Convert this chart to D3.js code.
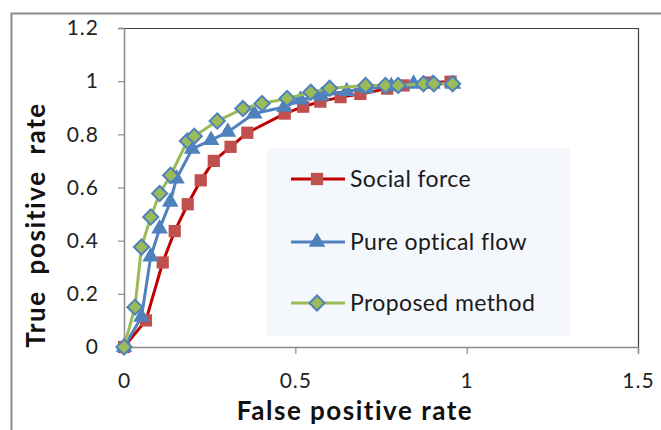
<!DOCTYPE html>
<html>
<head>
<meta charset="utf-8">
<script src="https://cdn.jsdelivr.net/npm/d3@7"></script>
<style>
  body { margin: 0; background: #fff; }
  svg { display: block; font-family: Lato, "Liberation Sans", sans-serif; }
</style>
</head>
<body>
<div id="chart"></div>
<script>
// Series values (false positive rate, true positive rate)
const socialFpr = [0, 0.064, 0.113, 0.148, 0.186, 0.224, 0.262, 0.311, 0.36, 0.469, 0.523, 0.573, 0.632, 0.69, 0.768, 0.816, 0.89, 0.953];
const socialTpr = [0, 0.10, 0.318, 0.436, 0.537, 0.627, 0.70, 0.753, 0.806, 0.878, 0.904, 0.923, 0.94, 0.952, 0.972, 0.984, 0.995, 0.998];

const opticalFpr = [0, 0.051, 0.078, 0.104, 0.135, 0.153, 0.199, 0.254, 0.303, 0.38, 0.468, 0.515, 0.576, 0.65, 0.708, 0.78, 0.845, 0.90, 0.96];
const opticalTpr = [0, 0.113, 0.34, 0.445, 0.546, 0.633, 0.745, 0.778, 0.809, 0.878, 0.903, 0.93, 0.944, 0.962, 0.973, 0.98, 0.99, 0.99, 0.99];

const proposedFpr = [0, 0.032, 0.051, 0.078, 0.104, 0.136, 0.185, 0.205, 0.272, 0.347, 0.403, 0.476, 0.545, 0.60, 0.705, 0.763, 0.80, 0.874, 0.904, 0.959];
const proposedTpr = [0, 0.15, 0.376, 0.489, 0.577, 0.646, 0.775, 0.793, 0.85, 0.897, 0.916, 0.935, 0.958, 0.973, 0.984, 0.984, 0.984, 0.99, 0.99, 0.99];

const seriesNames = ['Social force', 'Pure optical flow', 'Proposed method'];
const xTicks = [0, 0.5, 1, 1.5];
const yTicks = [0, 0.2, 0.4, 0.6, 0.8, 1, 1.2];

const width = 661;
const height = 430;
const margin = { top: 28, right: 23, bottom: 83, left: 124 };

const svg = d3.select('#chart')
  .append('svg')
  .attr('width', width)
  .attr('height', height);

// outer chart border
svg.append('rect')
  .attr('x', 11.5).attr('y', 13.5)
  .attr('width', 700).attr('height', 500)
  .attr('fill', 'none')
  .attr('stroke', '#8c8c8c')
  .attr('stroke-width', 2);

const x = d3.scaleLinear().domain([0, 1.5]).range([margin.left, width - margin.right]);
const y = d3.scaleLinear().domain([0, 1.2]).range([height - margin.bottom, margin.top]);

// plot area frame (top/right darker)
svg.append('path')
  .attr('d', `M${x(0)},${y(1.2) + 0.5}H${x(1.5) + 0.5}V${y(0)}`)
  .attr('fill', 'none')
  .attr('stroke', '#404040')
  .attr('stroke-width', 1.2);

// axes
const xAxis = svg.append('g')
  .attr('transform', `translate(0,${y(0)})`)
  .call(d3.axisBottom(x).tickValues(xTicks).tickSize(6).tickPadding(20)
    .tickFormat(d => d3.format('')(d)));

const yAxis = svg.append('g')
  .attr('transform', `translate(${x(0)},0)`)
  .call(d3.axisLeft(y).tickValues(yTicks).tickSize(6).tickPadding(19)
    .tickFormat(d => d3.format('')(+d.toFixed(1))));

[xAxis, yAxis].forEach(g => {
  g.select('.domain').attr('stroke', '#8c8c8c').attr('stroke-width', 1.5);
  g.selectAll('.tick line').attr('stroke', '#8c8c8c').attr('stroke-width', 1.2);
  g.selectAll('.tick text')
    .attr('fill', '#222')
    .style('font-size', '21px')
    .style('letter-spacing', '1px')
    .style('font-family', 'Lato, sans-serif');
});
xAxis.selectAll('.tick line').attr('y2', 7);

// axis titles
svg.append('text')
  .attr('x', 355)
  .attr('y', 420)
  .attr('text-anchor', 'middle')
  .style('font-size', '26px')
  .style('font-weight', 'bold')
  .style('letter-spacing', '1.5px')
  .attr('fill', '#111')
  .text('False positive rate');

svg.append('text')
  .attr('transform', 'translate(45,225) rotate(-90)')
  .attr('text-anchor', 'middle')
  .style('font-size', '26px')
  .style('font-weight', 'bold')
  .style('letter-spacing', '1.6px')
  .attr('fill', '#111')
  .attr('xml:space', 'preserve')
  .style('white-space', 'pre')
  .text('True  positive  rate');

// legend background
const legend = { x0: 267, y0: 148, x1: 570, y1: 336 };
svg.append('rect')
  .attr('x', legend.x0).attr('y', legend.y0)
  .attr('width', legend.x1 - legend.x0).attr('height', legend.y1 - legend.y0)
  .attr('fill', '#f4f7fc');

const styles = [
  { line: '#c00000', fill: '#c0504d', stroke: 'none', shape: d3.symbolSquare, size: 150, rot: 0 },
  { line: '#4f81bd', fill: '#4f81bd', stroke: 'none', shape: d3.symbolTriangle, size: 120, rot: 0 },
  { line: '#9bbb59', fill: '#9bbb59', stroke: '#4f81bd', shape: d3.symbolSquare, size: 115, rot: 45 }
];

const series = [
  d3.zip(socialFpr, socialTpr),
  d3.zip(opticalFpr, opticalTpr),
  d3.zip(proposedFpr, proposedTpr)
];

const line = d3.line().x(d => x(d[0])).y(d => y(d[1]));

series.forEach((pts, i) => {
  const s = styles[i];
  const g = svg.append('g');
  g.append('path')
    .attr('d', line(pts))
    .attr('fill', 'none')
    .attr('stroke', s.line)
    .attr('stroke-width', 3)
    .attr('stroke-linejoin', 'round');
  g.selectAll('path.pt')
    .data(pts)
    .enter()
    .append('path')
    .attr('class', 'pt')
    .attr('transform', d => `translate(${x(d[0])},${y(d[1])}) rotate(${s.rot})`)
    .attr('d', d3.symbol().type(s.shape).size(s.size))
    .attr('fill', s.fill)
    .attr('stroke', s.stroke)
    .attr('stroke-width', 2);
});

// legend entries
const legendY = [179, 242, 303];
seriesNames.forEach((name, i) => {
  const s = styles[i];
  const g = svg.append('g').attr('transform', `translate(0,${legendY[i]})`);
  g.append('line')
    .attr('x1', 291).attr('x2', 345)
    .attr('stroke', s.line).attr('stroke-width', 3);
  g.append('path')
    .attr('transform', `translate(317,0) rotate(${s.rot})`)
    .attr('d', d3.symbol().type(s.shape).size(s.size))
    .attr('fill', s.fill)
    .attr('stroke', s.stroke)
    .attr('stroke-width', 2);
  g.append('text')
    .attr('x', 350)
    .attr('dy', '0.35em')
    .style('font-size', '23px')
    .style('letter-spacing', '0.4px')
    .attr('fill', '#1a1a1a')
    .text(name);
});
</script>
</body>
</html>
